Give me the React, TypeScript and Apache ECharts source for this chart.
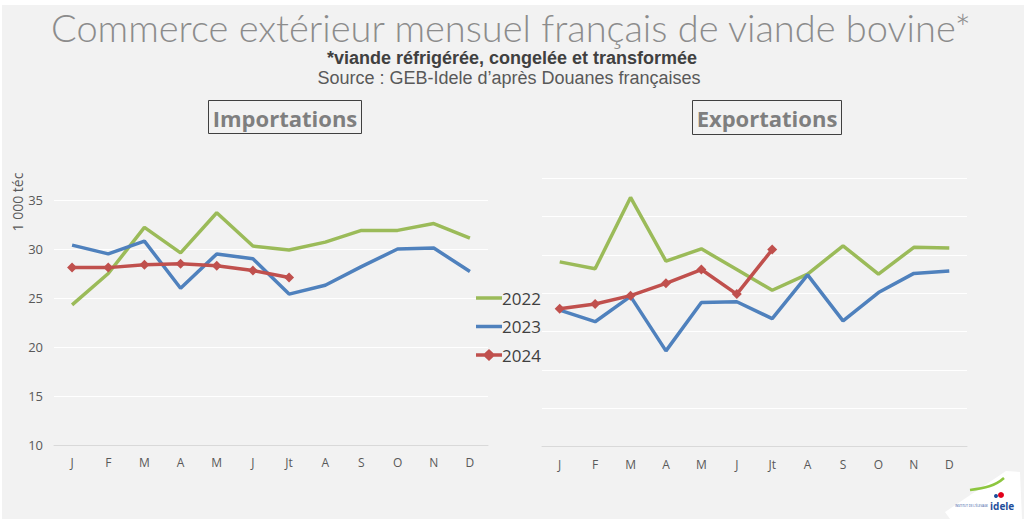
import React, { useEffect, useRef } from "react";
import * as echarts from "echarts";

const months = ["J", "F", "M", "A", "M", "J", "Jt", "A", "S", "O", "N", "D"];
const seriesNames = ["2022", "2023", "2024"];

// Importations (1 000 téc)
const imp2022 = [24.3, 27.5, 32.2, 29.6, 33.7, 30.3, 29.9, 30.7, 31.9, 31.9, 32.6, 31.1];
const imp2023 = [30.4, 29.5, 30.8, 26.0, 29.5, 29.0, 25.4, 26.3, 28.2, 30.0, 30.1, 27.7];
const imp2024 = [28.1, 28.1, 28.4, 28.5, 28.3, 27.8, 27.1];

// Exportations (1 000 téc, axis unlabelled in source)
const exp2022 = [24.1, 23.2, 32.5, 24.2, 25.8, 23.1, 20.4, 22.5, 26.2, 22.5, 26.0, 25.9];
const exp2023 = [17.8, 16.3, 19.6, 12.5, 18.8, 18.9, 16.7, 22.4, 16.4, 20.1, 22.6, 22.9];
const exp2024 = [18.0, 18.6, 19.7, 21.3, 23.1, 19.9, 25.7];

const colors = ["#9bbb59", "#4f81bd", "#c0504d"];

const lineIcon =
  "path://M0,0 L0.01,0 L0.01,0.01 Z M0,4.3 L26,4.3 L26,7.7 L0,7.7 Z M25.99,11.99 L26,11.99 L26,12 Z";
const diamondIcon =
  "path://M0,4.3 L8.5,4.3 L13,0 L17.5,4.3 L26,4.3 L26,7.7 L17.5,7.7 L13,12 L8.5,7.7 L0,7.7 Z";

export default function App() {
  const ref = useRef<HTMLDivElement>(null);

  useEffect(() => {
    document.body.style.margin = "0";
    if (!ref.current) return;
    const chart = echarts.init(ref.current, null, { renderer: "svg" });

    const axisLabel = { color: "#595959", fontSize: 12, fontFamily: "Open Sans, sans-serif" };

    const mk = (name: string, data: number[], idx: number, colorIdx: number) => ({
      name,
      type: "line",
      xAxisIndex: idx,
      yAxisIndex: idx,
      data,
      symbol: colorIdx === 2 ? "diamond" : "none",
      symbolSize: 10,
      showSymbol: colorIdx === 2,
      itemStyle: { color: colors[colorIdx] },
      lineStyle: { color: colors[colorIdx], width: 3.5 },
      z: 3 + colorIdx,
    });

    chart.setOption({
      animation: false,
      backgroundColor: "#ffffff",
      color: colors,
      grid: [
        { left: 54, top: 200, width: 434, height: 245 },
        { left: 542, top: 178.3, width: 425, height: 268.4 },
      ],
      xAxis: [
        {
          type: "category",
          gridIndex: 0,
          data: months,
          boundaryGap: true,
          axisLine: { lineStyle: { color: "#d9d9d9" } },
          axisTick: { show: false },
          axisLabel: { ...axisLabel, margin: 11 },
        },
        {
          type: "category",
          gridIndex: 1,
          data: months,
          boundaryGap: true,
          axisLine: { lineStyle: { color: "#d9d9d9" } },
          axisTick: { show: false },
          axisLabel: { ...axisLabel, margin: 12 },
        },
      ],
      yAxis: [
        {
          type: "value",
          gridIndex: 0,
          min: 10,
          max: 35,
          interval: 5,
          axisLine: { show: false },
          axisTick: { show: false },
          axisLabel: { ...axisLabel, fontSize: 13, margin: 11 },
          splitLine: { lineStyle: { color: "#ffffff", width: 1.2 } },
        },
        {
          type: "value",
          gridIndex: 1,
          min: 0,
          max: 35,
          interval: 5,
          axisLine: { show: false },
          axisTick: { show: false },
          axisLabel: { show: false },
          splitLine: { lineStyle: { color: "#ffffff", width: 1.2 } },
        },
      ],
      legend: {
        data: [
          { name: seriesNames[0], icon: lineIcon },
          { name: seriesNames[1], icon: lineIcon },
          { name: seriesNames[2], icon: diamondIcon },
        ],
        orient: "vertical",
        left: 471,
        top: 284,
        itemWidth: 26,
        itemHeight: 12,
        itemGap: 10.5,
        textStyle: { color: "#404040", fontSize: 17, fontFamily: "Open Sans, sans-serif", padding: [0, 0, 0, -5], lineHeight: 18 },
      },
      series: [
        mk("2022", imp2022, 0, 0),
        mk("2023", imp2023, 0, 1),
        mk("2024", imp2024, 0, 2),
        mk("2022", exp2022, 1, 0),
        mk("2023", exp2023, 1, 1),
        mk("2024", exp2024, 1, 2),
      ],
      graphic: [
        { type: "rect", z: -10, shape: { x: 2, y: 5, width: 1022, height: 514 }, style: { fill: "#f2f2f2" } },
        {
          type: "text",
          x: 511,
          y: 27,
          style: {
            text: "Commerce extérieur mensuel français de viande bovine*",
            fill: "#8c8c8c",
            fontSize: 38,
            fontWeight: 300,
            fontFamily: "Lato, sans-serif",
            align: "center",
            verticalAlign: "middle",
          },
        },
        {
          type: "text",
          x: 512,
          y: 58,
          style: {
            text: "*viande réfrigérée, congelée et transformée",
            fill: "#404040",
            fontSize: 18,
            fontWeight: "bold",
            fontFamily: "Liberation Sans Narrow, Arial Narrow, sans-serif",
            align: "center",
            verticalAlign: "middle",
          },
        },
        {
          type: "text",
          x: 509,
          y: 78,
          style: {
            text: "Source : GEB-Idele d’après Douanes françaises",
            fill: "#595959",
            fontSize: 18,
            fontFamily: "Liberation Sans Narrow, Arial Narrow, sans-serif",
            align: "center",
            verticalAlign: "middle",
          },
        },
        { type: "rect", shape: { x: 208.5, y: 100.5, width: 153, height: 33 }, style: { fill: "none", stroke: "#404040", lineWidth: 1 } },
        {
          type: "text",
          x: 285,
          y: 118,
          style: { text: "Importations", fill: "#7f7f7f", fontSize: 22, fontWeight: "bold", fontFamily: "Open Sans, sans-serif", align: "center", verticalAlign: "middle" },
        },
        { type: "rect", shape: { x: 692.5, y: 100.5, width: 149, height: 34 }, style: { fill: "none", stroke: "#404040", lineWidth: 1 } },
        {
          type: "text",
          x: 767,
          y: 118,
          style: { text: "Exportations", fill: "#7f7f7f", fontSize: 22, fontWeight: "bold", fontFamily: "Open Sans, sans-serif", align: "center", verticalAlign: "middle" },
        },
        {
          type: "text",
          x: 17,
          y: 202,
          rotation: Math.PI / 2,
          style: { text: "1 000 téc", fill: "#595959", fontSize: 14, fontFamily: "Open Sans, sans-serif", align: "center", verticalAlign: "middle" },
        },
        {
          type: "polygon",
          z: 10,
          shape: { points: [[945, 512], [1006, 471], [1020, 472], [1022, 519], [950, 519]] },
          style: { fill: "#ffffff" },
        },
        {
          type: "bezierCurve",
          z: 11,
          shape: { x1: 970, y1: 490, x2: 1004, y2: 478, cpx1: 985, cpy1: 488, cpx2: 995, cpy2: 486 },
          style: { stroke: "#8dc63f", lineWidth: 2.5, fill: "none" },
        },
        { type: "circle", z: 11, shape: { cx: 1001, cy: 495, r: 3 }, style: { fill: "#e2001a" } },
        { type: "circle", z: 11, shape: { cx: 996, cy: 496, r: 2 }, style: { fill: "#1f4e9b" } },
        {
          type: "text",
          z: 11,
          x: 990,
          y: 506,
          style: { text: "idele", fill: "#1f4e9b", fontSize: 10, fontWeight: "bold", fontFamily: "Open Sans, sans-serif", align: "left", verticalAlign: "middle" },
        },
        {
          type: "text",
          z: 11,
          x: 988,
          y: 506,
          style: { text: "INSTITUT DE L'ÉLEVAGE", fill: "#1f4e9b", fontSize: 3, fontFamily: "Open Sans, sans-serif", align: "right", verticalAlign: "middle" },
        },
      ],
    });

    return () => chart.dispose();
  }, []);

  return <div ref={ref} style={{ width: 1024, height: 519 }} />;
}
